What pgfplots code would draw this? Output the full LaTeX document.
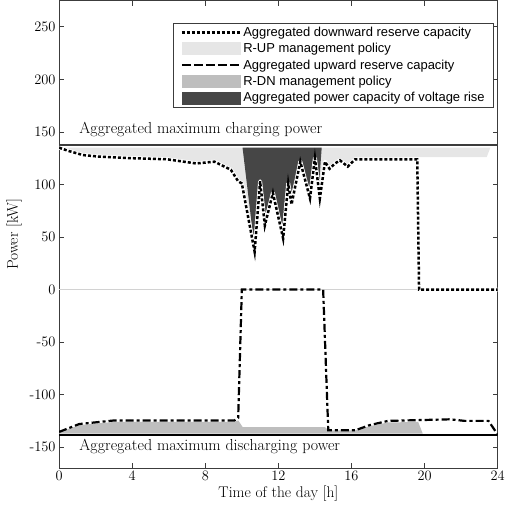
\documentclass[border=0pt]{standalone}
\usepackage{fontspec}
\usepackage{pgfplots}
\pgfplotsset{compat=1.18}
\newfontfamily\legfont{Liberation Sans}
\definecolor{rup}{RGB}{230,230,230}
\definecolor{rdn}{RGB}{190,190,190}
\definecolor{vr}{RGB}{70,70,70}
\definecolor{frame}{RGB}{60,60,60}
\begin{document}
\begin{tikzpicture}[x=1bp,y=1bp]
\begin{axis}[
  scale only axis, width=438bp, height=467bp,
  xmin=0, xmax=24, ymin=-170, ymax=275,
  xtick={0,4,8,12,16,20,24},
  ytick={-150,-100,-50,0,50,100,150,200,250},
  yticklabels={-150,-100,-50,0,50,100,150,200,250},
  tick align=inside, major tick length=5bp,
  axis line style={frame, line width=1.2bp},
  every tick/.style={frame, line width=0.8bp},
  tick label style={font=\fontsize{14.5}{16}\selectfont},
  label style={font=\fontsize{15.5}{18}\selectfont},
  xlabel={Time of the day [h]},
  ylabel={Power [kW]},
  xlabel style={yshift=2bp},
  ylabel style={yshift=1bp},
  legend cell align=left,
  legend style={at={(rel axis cs:0.992,0.953)}, anchor=north east,
    draw=frame, line width=0.8bp, font=\legfont\fontsize{13}{15}\selectfont,
    row sep=1.5bp, inner xsep=7bp, inner ysep=2bp},
  clip=true,
]
% legend entries
\addlegendimage{legend image code/.code={\draw[black, line width=2.5bp, dash pattern=on 3bp off 2bp] (0bp,0bp) -- (58bp,0bp);}}
\addlegendentry{Aggregated downward reserve capacity}
\addlegendimage{legend image code/.code={\fill[rup] (0bp,-6bp) rectangle (58bp,6bp);}}
\addlegendentry{R-UP management policy}
\addlegendimage{legend image code/.code={\draw[black, line width=2.2bp, dash pattern=on 9bp off 3bp] (0bp,0bp) -- (58bp,0bp);}}
\addlegendentry{Aggregated upward reserve capacity}
\addlegendimage{legend image code/.code={\fill[rdn] (0bp,-6bp) rectangle (58bp,6bp);}}
\addlegendentry{R-DN management policy}
\addlegendimage{legend image code/.code={\fill[vr] (0bp,-6bp) rectangle (58bp,6bp);}}
\addlegendentry{Aggregated power capacity of voltage rise}

% zero line
\addplot[forget plot, rdn!70, line width=0.8bp] coordinates {(0,0) (24,0)};

% R-UP fill
\addplot[forget plot, fill=rup, draw=none] coordinates {
 (0,135) (0.5,132) (1.3,128) (2.2,126.5) (4,125) (5.9,124) (7.5,120) (8.5,121.7)
 (9.4,114) (9.8,103) (10.0,101) (10.7,36) (11.0,103) (11.26,61) (11.7,92)
 (12.26,48.6) (12.54,101) (12.72,81) (13.2,121.7) (13.73,86.7) (14.0,125)
 (14.27,86.7) (14.55,121.7) (14.8,115) (15.1,120) (15.37,123) (15.8,117) (16.2,124.5)
 (19.6,126) (23.4,126) (23.6,135) } -- cycle;

% voltage rise fill
\addplot[forget plot, fill=vr, draw=none] coordinates {
 (10.04,135) (10.7,39) (11.0,103) (11.25,65) (11.7,91.5) (12.17,50.5) (12.45,101)
 (12.63,86.7) (13.18,121.7) (13.63,88) (14.0,126.5) (14.18,88) (14.37,135) } -- cycle;

% R-DN fill
\addplot[forget plot, fill=rdn, draw=none] coordinates {
 (0,-136) (1.1,-129) (3,-126) (9.6,-126) (9.8,-124.5) (10.05,-131) (14.55,-131)
 (14.75,-134) (16.2,-134) (17,-130) (18,-126.5) (19.65,-126) (19.9,-137) (0,-137) } -- cycle;

% max charging / discharging lines
\addplot[forget plot, frame, line width=2bp] coordinates {(0,138) (24,138)};
\addplot[forget plot, black, line width=2bp] coordinates {(0,-138.5) (24,-138.5)};

% downward reserve (dotted with white underlay)
\addplot[forget plot, white, line width=4bp, line join=round] coordinates {
 (0,135) (0.5,132) (1.3,128) (2.2,126.5) (4,125) (5.9,124) (7.5,120) (8.5,121.7)
 (9.4,114) (9.8,103) (10.0,101) (10.7,36) (11.0,103) (11.26,61) (11.7,92)
 (12.26,48.6) (12.54,101) (12.72,81) (13.2,121.7) (13.73,86.7) (14.0,125)
 (14.27,86.7) (14.55,121.7) (14.8,115) (15.1,120) (15.37,123) (15.8,117) (16.2,124)
 (19.6,124) (19.7,0) (24,0) };
\addplot[forget plot, black, line width=2.5bp, dash pattern=on 3bp off 2bp] coordinates {
 (0,135) (0.5,132) (1.3,128) (2.2,126.5) (4,125) (5.9,124) (7.5,120) (8.5,121.7)
 (9.4,114) (9.8,103) (10.0,101) (10.7,36) (11.0,103) (11.26,61) (11.7,92)
 (12.26,48.6) (12.54,101) (12.72,81) (13.2,121.7) (13.73,86.7) (14.0,125)
 (14.27,86.7) (14.55,121.7) (14.8,115) (15.1,120) (15.37,123) (15.8,117) (16.2,124)
 (19.6,124) (19.7,0) (24,0) };

% upward reserve (dash-dot)
\addplot[forget plot, black, line width=2.2bp, dash pattern=on 8bp off 3bp on 3bp off 3bp] coordinates {
 (0,-135.5) (1.1,-128) (3,-124.6) (9.6,-124.6) (9.8,-122) (10.0,0) (14.45,0)
 (14.73,-134) (16.2,-134) (17,-129) (18,-125) (21.4,-123.5) (22.2,-125) (23.5,-125) (24,-138) };

\node[anchor=west, inner sep=0pt, font=\fontsize{16}{18}\selectfont] at (axis cs:1.1,152) {Aggregated maximum charging power};
\node[anchor=west, inner sep=0pt, font=\fontsize{16}{18}\selectfont] at (axis cs:1.1,-149) {Aggregated maximum discharging power};
\end{axis}
\path ([xshift=-3bp]current bounding box.west);
\end{tikzpicture}
\end{document}
